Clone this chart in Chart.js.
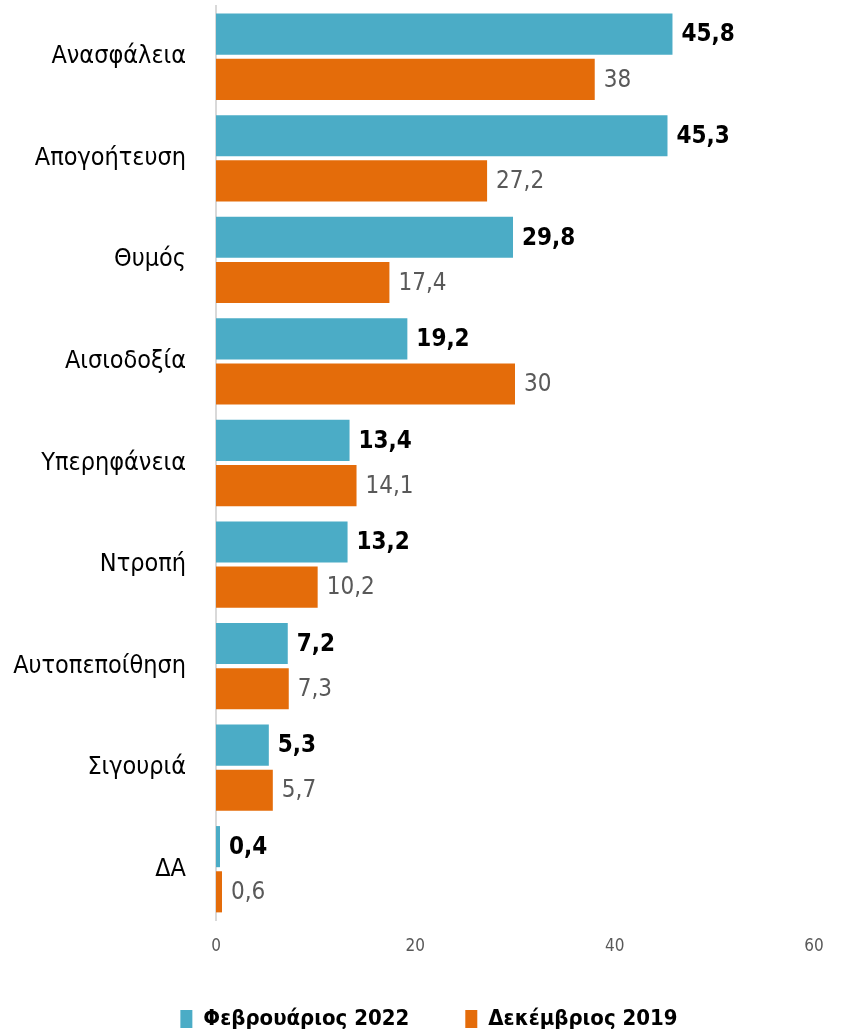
<!DOCTYPE html>
<html>
<head>
<meta charset="utf-8">
<script src="https://cdn.jsdelivr.net/npm/chart.js@4/dist/chart.umd.min.js"></script>
<style>
  html, body { margin: 0; padding: 0; background: #fff; }
  #wrap { width: 844px; height: 1034px; position: relative; }
</style>
</head>
<body>
<div id="wrap"><canvas id="chart"></canvas></div>
<script>
// feelings survey — two waves, horizontal grouped bars
const categories = ['Ανασφάλεια', 'Απογοήτευση', 'Θυμός', 'Αισιοδοξία', 'Υπερηφάνεια', 'Ντροπή', 'Αυτοπεποίθηση', 'Σιγουριά', 'ΔΑ'];
const feb2022 = [45.8, 45.3, 29.8, 19.2, 13.4, 13.2, 7.2, 5.3, 0.4];
const dec2019 = [38, 27.2, 17.4, 30, 14.1, 10.2, 7.3, 5.7, 0.6];
const seriesNames = ['Φεβρουάριος 2022', 'Δεκέμβριος 2019'];
const xTicks = [0, 20, 40, 60];

const FONT = "'DejaVu Sans Condensed', 'DejaVu Sans', sans-serif";
const BLUE = '#4BACC6';
const ORANGE = '#E46C0A';
const GREY = '#595959';
const AXIS_X = 216; // where the value axis starts

// value labels at the bar ends, greek decimal comma
const valueLabels = {
  id: 'valueLabels',
  afterDatasetsDraw(chart) {
    const { ctx } = chart;
    chart.data.datasets.forEach((ds, i) => {
      const meta = chart.getDatasetMeta(i);
      ctx.save();
      ctx.font = (i === 0 ? 'bold ' : '') + '24px ' + FONT;
      ctx.fillStyle = i === 0 ? '#000' : GREY;
      ctx.textAlign = 'left';
      ctx.textBaseline = 'middle';
      meta.data.forEach((bar, j) => {
        ctx.fillText(String(ds.data[j]).replace('.', ','), bar.x + 9, bar.y + 1);
      });
      ctx.restore();
    });
  },
};

// legend sits a little right of the canvas centre in the original
const legendShift = {
  id: 'legendShift',
  afterLayout(chart) {
    chart.legend.left += 22;
    chart.legend.right += 22;
  },
};

new Chart(document.getElementById('chart'), {
  type: 'bar',
  data: {
    labels: categories,
    datasets: [
      { label: seriesNames[0], data: feb2022, backgroundColor: BLUE, categoryPercentage: 0.89, barPercentage: 0.91 },
      { label: seriesNames[1], data: dec2019, backgroundColor: ORANGE, categoryPercentage: 0.89, barPercentage: 0.91 },
    ],
  },
  options: {
    indexAxis: 'y',
    responsive: true,
    maintainAspectRatio: false,
    animation: false,
    layout: { padding: { top: 6, left: 0, right: 30, bottom: -6 } },
    scales: {
      x: {
        min: 0, max: 60,
        afterBuildTicks: (s) => { s.ticks = xTicks.map((v) => ({ value: v })); },
        afterFit: (s) => { s.height = 32; },
        grid: { display: false },
        border: { display: false },
        ticks: { color: GREY, font: { family: FONT, size: 17 }, padding: 8 },
      },
      y: {
        afterFit: (s) => { s.width = AXIS_X; s.paddingTop = 0; s.paddingBottom = 0; },
        grid: { display: false },
        border: { display: true, color: '#d9d9d9', width: 2 },
        ticks: { color: '#000', font: { family: FONT, size: 25 }, padding: 22 },
      },
    },
    plugins: {
      legend: {
        position: 'bottom',
        labels: {
          boxWidth: 12, boxHeight: 18, padding: 56,
          color: '#000', font: { family: FONT, size: 22, weight: 'bold' },
        },
      },
      tooltip: { enabled: false },
    },
  },
  plugins: [valueLabels, legendShift],
});
</script>
</body>
</html>
